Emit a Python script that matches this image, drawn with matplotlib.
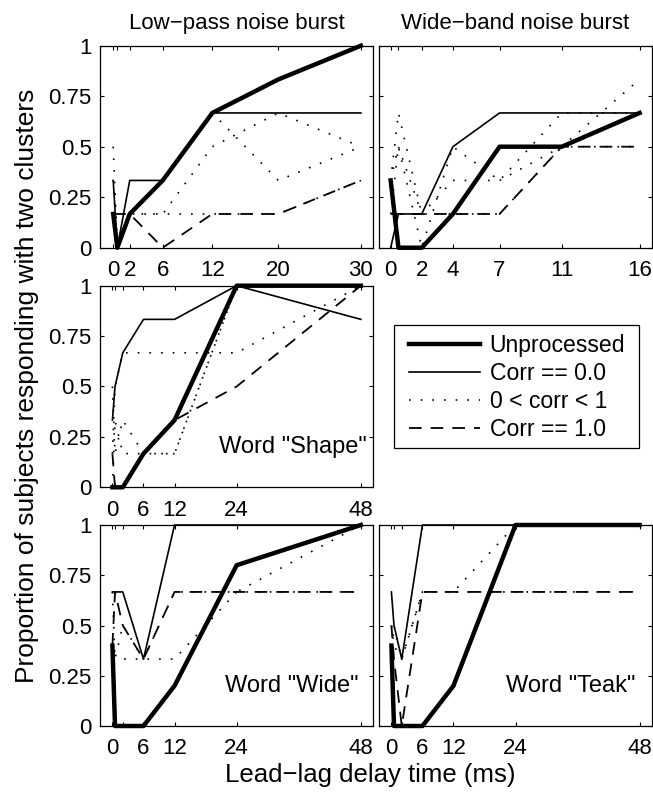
import matplotlib
matplotlib.use('Agg')
import matplotlib.pyplot as plt
from matplotlib.lines import Line2D
from matplotlib.patches import Rectangle

plt.rcParams['font.family'] = ['Liberation Sans', 'DejaVu Sans']
plt.rcParams['font.size'] = 16

# ---------------- data ----------------
# Low-pass noise burst
lp_x = [0, 0.5, 2, 6, 12, 20, 30]
lp_unproc = [0.167, 0, 0.167, 0.333, 0.667, 0.833, 1.0]
lp_corr0 = [0.333, 0, 0.333, 0.333, 0.667, 0.667, 0.667]
lp_corr1 = [0.167, 0.167, 0.167, 0, 0.167, 0.167, 0.333]
lp_mid_a = [0.5, 0, 0.167, 0.167, 0.167, 0.167, 0.333]
lp_mid_b = [0.167, 0, 0.167, 0.167, 0.5, 0.667, 0.5]
lp_mid_c = [0.333, 0, 0.167, 0.333, 0.667, 0.333, 0.5]
lp_ticks = [0, 0.5, 2, 6, 12, 20, 30]
lp_ticklabels = ['0', '', '2', '6', '12', '20', '30']

# Wide-band noise burst
wb_x = [0, 0.5, 2, 4, 7, 11, 16]
wb_unproc = [0.333, 0, 0, 0.167, 0.5, 0.5, 0.667]
wb_corr0 = [0, 0.167, 0.167, 0.5, 0.667, 0.667, 0.667]
wb_corr1 = [0.167, 0.167, 0.167, 0.167, 0.167, 0.5, 0.5]
wb_mid_a = [0.333, 0.667, 0.167, 0.167, 0.167, 0.5, 0.5]
wb_mid_b = [0.167, 0.5, 0, 0.5, 0.333, 0.667, 0.667]
wb_mid_c = [0.333, 0.5, 0.167, 0.333, 0.333, 0.5, 0.833]
wb_ticks = [0, 0.5, 2, 4, 7, 11, 16]
wb_ticklabels = ['0', '', '2', '4', '7', '11', '16']

# Word "Shape"
sh_x = [0, 0.5, 2, 6, 12, 24, 48]
sh_unproc = [0, 0, 0, 0.167, 0.333, 1.0, 1.0]
sh_corr0 = [0.333, 0.5, 0.667, 0.833, 0.833, 1.0, 0.833]
sh_corr1 = [0.167, 0, 0, 0.167, 0.333, 0.5, 1.0]
sh_mid_a = [0.167, 0.5, 0.667, 0.667, 0.667, 0.667, 1.0]
sh_mid_b = [0, 0.333, 0.167, 0.167, 0.167, 1.0, 1.0]
sh_mid_c = [0.5, 0.167, 0.333, 0.167, 0.167, 1.0, 1.0]

# Word "Wide"
wi_x = [0, 0.5, 2, 6, 12, 24, 48]
wi_unproc = [0.4, 0, 0, 0, 0.2, 0.8, 1.0]
wi_corr0 = [0.667, 0.667, 0.667, 0.333, 1.0, 1.0, 1.0]
wi_corr1 = [0.4, 0.667, 0.5, 0.333, 0.667, 0.667, 0.667]
wi_mid_a = [0.333, 0.333, 0.333, 0.333, 0.333, 0.667, 0.667]
wi_mid_b = [0.667, 0.333, 0.5, 0.333, 0.667, 0.667, 1.0]

# Word "Teak"
te_x = [0, 0.5, 2, 6, 12, 24, 48]
te_unproc = [0.4, 0, 0, 0, 0.2, 1.0, 1.0]
te_corr0 = [0.667, 0.5, 0.333, 1.0, 1.0, 1.0, 1.0]
te_corr1 = [0.5, 0.333, 0, 0.667, 0.667, 0.667, 0.667]
te_mid_a = [0.5, 0.4, 0.333, 0.667, 0.667, 0.667, 0.667]
te_mid_b = [0.333, 0.5, 0.333, 0.667, 0.667, 1.0, 1.0]

word_ticks = [0, 0.5, 2, 6, 12, 24, 48]
word_ticklabels = ['0', '', '', '6', '12', '24', '48']

y_ticks = [0, 0.25, 0.5, 0.75, 1]
y_ticklabels = ['0', '0.25', '0.5', '0.75', '1']

legend_labels = ['Unprocessed', 'Corr == 0.0', '0 < corr < 1', 'Corr == 1.0']

# ---------------- styles ----------------
S_UN = dict(color='k', lw=3.2, ls='-')
S_C0 = dict(color='k', lw=1.2, ls='-')
S_MID = dict(color='k', lw=1.2, ls=(0, (1, 6)))
S_C1 = dict(color='k', lw=1.3, ls=(0, (7, 5)))

W, H = 653, 798
fig = plt.figure(figsize=(W / 100, H / 100), dpi=100)


def ax_at(x0, y0, x1, y1):
    return fig.add_axes([x0 / W, 1 - y1 / H, (x1 - x0) / W, (y1 - y0) / H])


def style(ax, xlim, ticks, ticklabels, ylabels=True):
    ax.set_xlim(*xlim)
    ax.set_ylim(0, 1)
    ax.set_xticks(ticks)
    ax.set_xticklabels(ticklabels)
    ax.set_yticks(y_ticks)
    ax.set_yticklabels(y_ticklabels if ylabels else [])
    ax.tick_params(direction='in', top=True, right=True, length=3, width=0.8,
                   labelsize=16, pad=6)
    ax.tick_params(axis='x', pad=9)
    for s in ax.spines.values():
        s.set_linewidth(0.9)


def draw(ax, x, unproc, corr0, corr1, mids):
    for m in mids:
        ax.plot(x, m, clip_on=False, **S_MID)
    ax.plot(x, corr1, clip_on=False, **S_C1)
    ax.plot(x, corr0, clip_on=False, **S_C0)
    ax.plot(x, unproc, clip_on=False, **S_UN)


LX0, LX1 = 100, 373.3
RX0, RX1 = 379, 652
ROWS = [(45.7, 247.7), (285.7, 487.3), (525, 726)]
WORD_FS = 17

ax1 = ax_at(LX0, ROWS[0][0], LX1, ROWS[0][1])
draw(ax1, lp_x, lp_unproc, lp_corr0, lp_corr1, [lp_mid_a, lp_mid_b, lp_mid_c])
style(ax1, (-1.6, 31.5), lp_ticks, lp_ticklabels)
ax1.set_title('Low\u2212pass noise burst', fontsize=16, pad=12)

ax2 = ax_at(RX0, ROWS[0][0], RX1, ROWS[0][1])
draw(ax2, wb_x, wb_unproc, wb_corr0, wb_corr1, [wb_mid_a, wb_mid_b, wb_mid_c])
style(ax2, (-0.75, 16.8), wb_ticks, wb_ticklabels, ylabels=False)
ax2.set_title('Wide\u2212band noise burst', fontsize=16, pad=12)

ax3 = ax_at(LX0, ROWS[1][0], LX1, ROWS[1][1])
draw(ax3, sh_x, sh_unproc, sh_corr0, sh_corr1, [sh_mid_a, sh_mid_b, sh_mid_c])
style(ax3, (-2.4, 50.4), word_ticks, word_ticklabels)
ax3.text(0.976, 0.2, 'Word "Shape"', transform=ax3.transAxes, ha='right',
         va='center', fontsize=WORD_FS)

ax4 = ax_at(LX0, ROWS[2][0], LX1, ROWS[2][1])
draw(ax4, wi_x, wi_unproc, wi_corr0, wi_corr1, [wi_mid_a, wi_mid_b])
style(ax4, (-2.4, 50.4), word_ticks, word_ticklabels)
ax4.text(0.945, 0.2, 'Word "Wide"', transform=ax4.transAxes, ha='right',
         va='center', fontsize=WORD_FS)

ax5 = ax_at(RX0, ROWS[2][0], RX1, ROWS[2][1])
draw(ax5, te_x, te_unproc, te_corr0, te_corr1, [te_mid_a, te_mid_b])
style(ax5, (-2.4, 50.4), word_ticks, word_ticklabels, ylabels=False)
ax5.text(0.938, 0.2, 'Word "Teak"', transform=ax5.transAxes, ha='right',
         va='center', fontsize=WORD_FS)

# legend: entries without frame, separate rectangular box
handles = [Line2D([], [], **S_UN), Line2D([], [], **S_C0),
           Line2D([], [], **S_MID), Line2D([], [], **S_C1)]
leg = fig.legend(handles, legend_labels, loc='upper left',
                 bbox_to_anchor=(409 / W, 1 - 334 / H), borderaxespad=0,
                 frameon=False, fontsize=16.6, borderpad=0,
                 handlelength=3.1, handletextpad=0.4, labelspacing=0.22)
fig.patches.append(Rectangle((394 / W, 1 - 448 / H), (639 - 394) / W, (448 - 325) / H,
                             transform=fig.transFigure, fill=False,
                             edgecolor='k', lw=0.9))

fig.text(27 / W, 1 - 386 / H, 'Proportion of subjects responding with two clusters',
         rotation=90, ha='center', va='center', fontsize=19)
fig.text(370 / W, 1 - 775 / H, 'Lead\u2212lag delay time (ms)',
         ha='center', va='center', fontsize=18.5)

fig.savefig('out.png', dpi=100)
